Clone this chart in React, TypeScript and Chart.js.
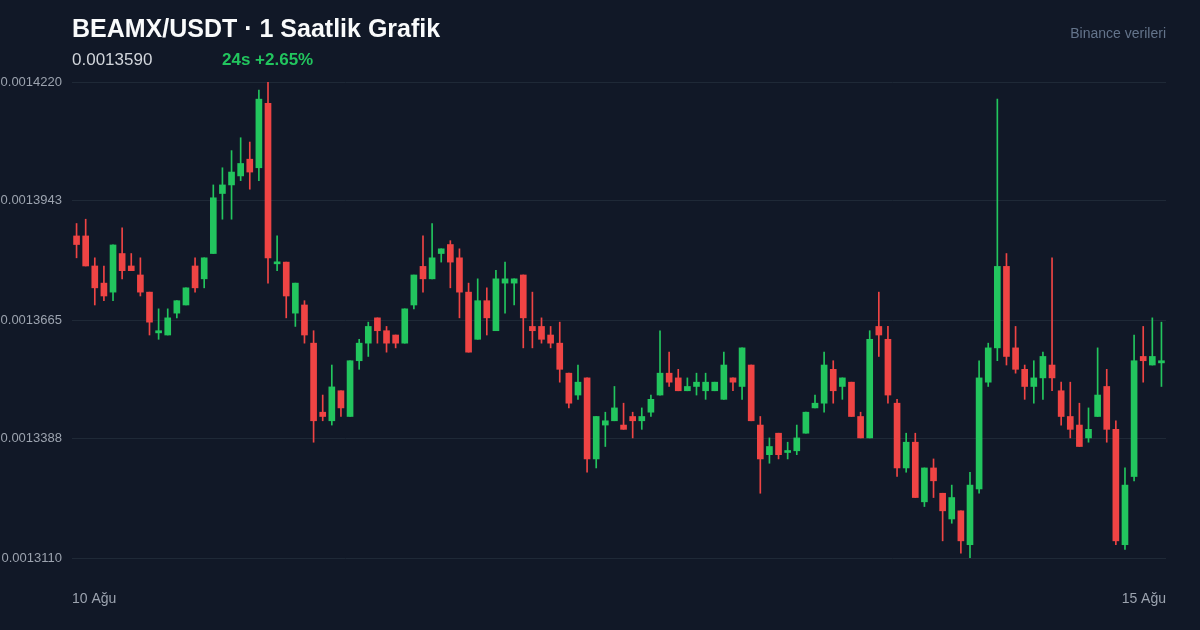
import React, { useEffect, useRef } from 'react';
import { Chart, registerables } from 'chart.js';

Chart.register(...registerables);

const FONT = '"Liberation Sans", Arial, Helvetica, sans-serif';

// Hourly candles, 10 Ağu -> 15 Ağu
const hours: string[] = Array.from({ length: 120 }, (_, i) => {
  const h = 11 + i;
  const day = 10 + Math.floor(h / 24);
  return `${day} Ağu ${String(h % 24).padStart(2, '0')}:00`;
});

const opens = [
  0.0013861, 0.0013861, 0.0013791, 0.0013751, 0.0013730, 0.0013820, 0.0013791, 0.0013770, 0.0013730, 0.0013635,
  0.0013630, 0.0013681, 0.0013700, 0.0013791, 0.0013761, 0.0013820, 0.0013960, 0.0013980, 0.0014001, 0.0014040,
  0.0014020, 0.0014170, 0.0013796, 0.0013800, 0.0013681, 0.0013700, 0.0013611, 0.0013450, 0.0013430, 0.0013500,
  0.0013440, 0.0013570, 0.0013611, 0.0013670, 0.0013640, 0.0013630, 0.0013611, 0.0013700, 0.0013790, 0.0013761,
  0.0013820, 0.0013841, 0.0013810, 0.0013730, 0.0013620, 0.0013710, 0.0013640, 0.0013751, 0.0013751, 0.0013770,
  0.0013650, 0.0013650, 0.0013630, 0.0013611, 0.0013541, 0.0013490, 0.0013530, 0.0013341, 0.0013420, 0.0013430,
  0.0013420, 0.0013440, 0.0013430, 0.0013450, 0.0013490, 0.0013541, 0.0013530, 0.0013500, 0.0013510, 0.0013500,
  0.0013500, 0.0013480, 0.0013530, 0.0013510, 0.0013560, 0.0013420, 0.0013351, 0.0013401, 0.0013356, 0.0013360,
  0.0013401, 0.0013460, 0.0013471, 0.0013550, 0.0013510, 0.0013520, 0.0013440, 0.0013390, 0.0013650, 0.0013620,
  0.0013471, 0.0013320, 0.0013380, 0.0013241, 0.0013320, 0.0013261, 0.0013201, 0.0013220, 0.0013141, 0.0013271,
  0.0013520, 0.0013600, 0.0013790, 0.0013600, 0.0013550, 0.0013510, 0.0013530, 0.0013560, 0.0013500, 0.0013440,
  0.0013420, 0.0013390, 0.0013440, 0.0013510, 0.0013410, 0.0013141, 0.0013300, 0.0013580, 0.0013560, 0.0013565,
];

const highs = [
  0.0013890, 0.0013900, 0.0013810, 0.0013791, 0.0013840, 0.0013880, 0.0013820, 0.0013810, 0.0013730, 0.0013691,
  0.0013691, 0.0013710, 0.0013740, 0.0013810, 0.0013810, 0.0013980, 0.0014020, 0.0014060, 0.0014090, 0.0014080,
  0.0014201, 0.0014220, 0.0013861, 0.0013800, 0.0013751, 0.0013710, 0.0013640, 0.0013490, 0.0013560, 0.0013500,
  0.0013570, 0.0013620, 0.0013660, 0.0013670, 0.0013650, 0.0013630, 0.0013691, 0.0013770, 0.0013861, 0.0013890,
  0.0013831, 0.0013850, 0.0013831, 0.0013751, 0.0013761, 0.0013740, 0.0013781, 0.0013800, 0.0013761, 0.0013770,
  0.0013730, 0.0013670, 0.0013650, 0.0013660, 0.0013541, 0.0013560, 0.0013530, 0.0013440, 0.0013450, 0.0013510,
  0.0013471, 0.0013450, 0.0013460, 0.0013490, 0.0013640, 0.0013590, 0.0013550, 0.0013530, 0.0013541, 0.0013541,
  0.0013520, 0.0013590, 0.0013530, 0.0013600, 0.0013560, 0.0013440, 0.0013390, 0.0013401, 0.0013380, 0.0013420,
  0.0013450, 0.0013490, 0.0013590, 0.0013570, 0.0013530, 0.0013520, 0.0013450, 0.0013640, 0.0013730, 0.0013650,
  0.0013480, 0.0013401, 0.0013401, 0.0013320, 0.0013341, 0.0013261, 0.0013280, 0.0013220, 0.0013310, 0.0013570,
  0.0013611, 0.0014180, 0.0013820, 0.0013650, 0.0013560, 0.0013570, 0.0013590, 0.0013810, 0.0013520, 0.0013520,
  0.0013471, 0.0013460, 0.0013600, 0.0013550, 0.0013430, 0.0013320, 0.0013630, 0.0013650, 0.0013670, 0.0013660,
];

const lows = [
  0.0013810, 0.0013791, 0.0013700, 0.0013710, 0.0013710, 0.0013761, 0.0013780, 0.0013721, 0.0013630, 0.0013620,
  0.0013630, 0.0013670, 0.0013700, 0.0013730, 0.0013740, 0.0013820, 0.0013900, 0.0013900, 0.0013990, 0.0013970,
  0.0013990, 0.0013751, 0.0013780, 0.0013670, 0.0013650, 0.0013611, 0.0013380, 0.0013430, 0.0013420, 0.0013440,
  0.0013440, 0.0013550, 0.0013580, 0.0013611, 0.0013590, 0.0013600, 0.0013611, 0.0013691, 0.0013730, 0.0013761,
  0.0013800, 0.0013740, 0.0013670, 0.0013590, 0.0013620, 0.0013630, 0.0013640, 0.0013681, 0.0013700, 0.0013600,
  0.0013600, 0.0013611, 0.0013600, 0.0013520, 0.0013460, 0.0013480, 0.0013310, 0.0013320, 0.0013370, 0.0013430,
  0.0013410, 0.0013390, 0.0013410, 0.0013440, 0.0013490, 0.0013510, 0.0013500, 0.0013500, 0.0013490, 0.0013480,
  0.0013500, 0.0013480, 0.0013500, 0.0013480, 0.0013430, 0.0013261, 0.0013331, 0.0013341, 0.0013341, 0.0013351,
  0.0013401, 0.0013460, 0.0013450, 0.0013471, 0.0013480, 0.0013440, 0.0013390, 0.0013390, 0.0013580, 0.0013471,
  0.0013300, 0.0013310, 0.0013251, 0.0013230, 0.0013251, 0.0013150, 0.0013191, 0.0013121, 0.0013111, 0.0013261,
  0.0013510, 0.0013570, 0.0013560, 0.0013541, 0.0013480, 0.0013471, 0.0013480, 0.0013500, 0.0013420, 0.0013390,
  0.0013370, 0.0013380, 0.0013440, 0.0013380, 0.0013141, 0.0013130, 0.0013290, 0.0013520, 0.0013560, 0.0013510,
];

const closes = [
  0.0013841, 0.0013791, 0.0013740, 0.0013721, 0.0013840, 0.0013780, 0.0013780, 0.0013730, 0.0013660, 0.0013640,
  0.0013670, 0.0013710, 0.0013740, 0.0013740, 0.0013810, 0.0013950, 0.0013980, 0.0014010, 0.0014030, 0.0014010,
  0.0014180, 0.0013810, 0.0013800, 0.0013721, 0.0013751, 0.0013630, 0.0013430, 0.0013440, 0.0013509, 0.0013460,
  0.0013570, 0.0013611, 0.0013650, 0.0013640, 0.0013611, 0.0013611, 0.0013691, 0.0013770, 0.0013761, 0.0013810,
  0.0013831, 0.0013800, 0.0013730, 0.0013590, 0.0013710, 0.0013670, 0.0013761, 0.0013761, 0.0013761, 0.0013670,
  0.0013640, 0.0013620, 0.0013611, 0.0013550, 0.0013471, 0.0013520, 0.0013341, 0.0013440, 0.0013430, 0.0013460,
  0.0013410, 0.0013430, 0.0013440, 0.0013480, 0.0013541, 0.0013520, 0.0013500, 0.0013510, 0.0013520, 0.0013520,
  0.0013520, 0.0013560, 0.0013520, 0.0013600, 0.0013430, 0.0013341, 0.0013370, 0.0013351, 0.0013360, 0.0013390,
  0.0013450, 0.0013471, 0.0013560, 0.0013500, 0.0013530, 0.0013440, 0.0013390, 0.0013620, 0.0013630, 0.0013490,
  0.0013320, 0.0013380, 0.0013251, 0.0013320, 0.0013290, 0.0013220, 0.0013251, 0.0013150, 0.0013280, 0.0013530,
  0.0013600, 0.0013790, 0.0013580, 0.0013550, 0.0013510, 0.0013530, 0.0013580, 0.0013530, 0.0013440, 0.0013410,
  0.0013370, 0.0013410, 0.0013490, 0.0013410, 0.0013150, 0.0013280, 0.0013570, 0.0013570, 0.0013580, 0.0013570,
];

const yTicks = [0.001311, 0.0013388, 0.0013665, 0.0013943, 0.001422];
const dateLabels = ['10 Ağu', '15 Ağu'];

const UP = '#22c55e';
const DOWN = '#ef4444';
const BG = '#111827';
const GRID = '#1f2937';
const TICK = '#9ca3af';

export default function App() {
  const canvasRef = useRef<HTMLCanvasElement | null>(null);

  useEffect(() => {
    document.body.style.margin = '0';
    document.body.style.background = BG;
    const canvas = canvasRef.current;
    if (!canvas) return;
    const colors = opens.map((o, i) => (closes[i] >= o ? UP : DOWN));
    const chart = new Chart(canvas, {
      type: 'bar',
      data: {
        labels: hours,
        datasets: [
          {
            label: 'wick',
            data: lows.map((l, i) => [l, highs[i]]) as any,
            backgroundColor: colors,
            borderWidth: 0,
            barThickness: 1,
            grouped: false,
            order: 2,
            xAxisID: 'x',
            yAxisID: 'y',
          } as any,
          {
            label: 'body',
            data: opens.map((o, i) => [Math.min(o, closes[i]), Math.max(o, closes[i])]) as any,
            backgroundColor: colors,
            borderWidth: 0,
            barThickness: 6,
            minBarLength: 2,
            grouped: false,
            order: 1,
            xAxisID: 'x',
            yAxisID: 'y',
          } as any,
        ],
      },
      options: {
        responsive: false,
        animation: false,
        devicePixelRatio: 1,
        layout: { padding: { left: 0, right: 34, top: 82, bottom: 0 } },
        plugins: {
          legend: { display: false },
          tooltip: { enabled: false },
          title: { display: false },
        },
        scales: {
          x: {
            type: 'category',
            display: false,
            offset: true,
          },
          x2: {
            type: 'linear',
            position: 'bottom',
            min: 0,
            max: 1,
            offset: false,
            afterBuildTicks: (s: any) => {
              s.ticks = [{ value: 0 }, { value: 1 }];
            },
            afterFit: (s: any) => {
              s.height = 72;
            },
            grid: { display: false, drawTicks: false, offset: false },
            border: { display: false },
            ticks: {
              color: TICK,
              align: 'inner',
              padding: 33,
              maxRotation: 0,
              autoSkip: false,
              font: { size: 14, family: FONT },
              callback: (_v: any, i: number) => dateLabels[i],
            },
          } as any,
          y: {
            type: 'linear',
            min: yTicks[0],
            max: yTicks[yTicks.length - 1],
            afterBuildTicks: (s: any) => {
              s.ticks = yTicks.map((v) => ({ value: v }));
            },
            afterFit: (s: any) => {
              s.width = 72;
            },
            grid: { color: GRID, lineWidth: 1, drawTicks: false },
            border: { display: false },
            ticks: {
              color: TICK,
              padding: 10,
              font: { size: 13, family: FONT },
              callback: (v: any) => Number(v).toFixed(7),
            },
          } as any,
        },
      },
    });
    return () => chart.destroy();
  }, []);

  const base: React.CSSProperties = {
    position: 'absolute',
    lineHeight: 1,
    whiteSpace: 'nowrap',
    fontFamily: FONT,
  };

  return (
    <div style={{ position: 'relative', width: 1200, height: 630, background: BG, overflow: 'hidden' }}>
      <canvas ref={canvasRef} width={1200} height={630} style={{ position: 'absolute', left: 0, top: 0, width: 1200, height: 630 }} />
      <div style={{ ...base, left: 72, top: 16, fontSize: 25, fontWeight: 700, color: '#f9fafb' }}>
        BEAMX/USDT · 1 Saatlik Grafik
      </div>
      <div style={{ ...base, left: 72, top: 51, fontSize: 17, color: '#d1d5db' }}>0.0013590</div>
      <div style={{ ...base, left: 222, top: 51, fontSize: 17, fontWeight: 700, color: UP }}>24s +2.65%</div>
      <div style={{ ...base, right: 34, top: 26, fontSize: 14, color: '#64748b' }}>Binance verileri</div>
    </div>
  );
}
